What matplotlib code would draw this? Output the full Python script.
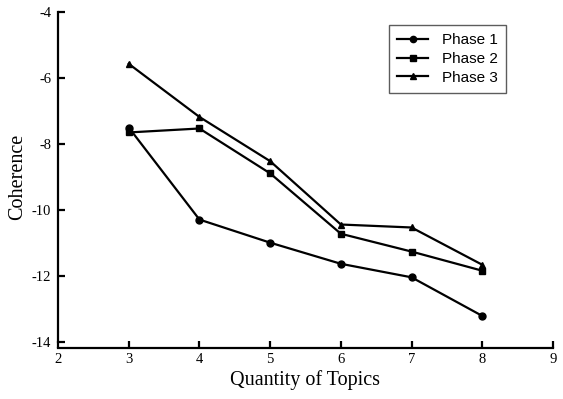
import matplotlib
matplotlib.use("Agg")
import matplotlib.pyplot as plt

topics = [3, 4, 5, 6, 7, 8]
phase1 = [-7.50, -10.29, -10.99, -11.63, -12.04, -13.21]
phase2 = [-7.65, -7.53, -8.89, -10.72, -11.26, -11.84]
phase3 = [-5.57, -7.18, -8.52, -10.44, -10.53, -11.66]
series_labels = ["Phase 1", "Phase 2", "Phase 3"]
x_ticks = [2, 3, 4, 5, 6, 7, 8, 9]
y_ticks = [-14, -12, -10, -8, -6, -4]

plt.rcParams["axes.unicode_minus"] = False

W, H = 563, 399
fig = plt.figure(figsize=(W / 100, H / 100), dpi=100)
ax = fig.add_axes([58 / W, (H - 342) / H, (553 - 58) / W, (342 - 12) / H])

markers = ["o", "s", "^"]
for vals, lab, m in zip([phase1, phase2, phase3], series_labels, markers):
    ax.plot(topics, vals, color="black", lw=1.6, marker=m, ms=5, label=lab)

ax.set_xlim(2, 9)
ax.set_ylim(-14, -4)
ax.set_xticks(x_ticks)
ax.set_yticks(y_ticks)

serif = "Liberation Serif"
ax.tick_params(axis="both", direction="in", width=1.6, length=5, colors="black",
               labelsize=10.5, labelfontfamily=serif)
ax.tick_params(axis="x", pad=4)
ax.tick_params(axis="y", pad=5)

for s in ["top", "right"]:
    ax.spines[s].set_visible(False)
for s in ["left", "bottom"]:
    ax.spines[s].set_linewidth(1.6)
ax.spines["bottom"].set_position(("outward", 4))

ax.set_xlabel("Quantity of Topics", family=serif, fontsize=14.5, labelpad=3)
ax.set_ylabel("Coherence", family=serif, fontsize=14.5, labelpad=3)

leg = ax.legend(loc="upper right", bbox_to_anchor=(506 / W, (H - 25) / H),
                bbox_transform=fig.transFigure, frameon=True, fancybox=False,
                borderaxespad=0, edgecolor="#333333",
                prop={"family": "Liberation Sans", "size": 11},
                handlelength=2.0, borderpad=0.55, labelspacing=0.3, handletextpad=0.9,
                markerscale=0.9)
leg.get_frame().set_linewidth(1.0)

fig.savefig("out.png", dpi=100)
